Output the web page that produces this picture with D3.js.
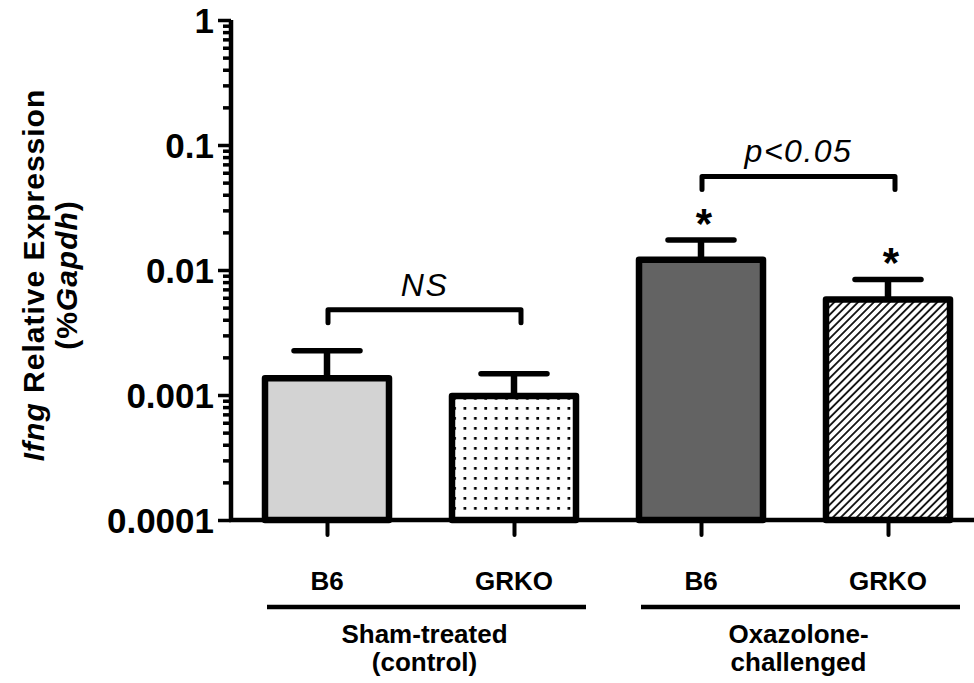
<!DOCTYPE html>
<html>
<head>
<meta charset="utf-8">
<script src="https://cdn.jsdelivr.net/npm/d3@7"></script>
<style>
body{margin:0;background:#fff;}
svg{display:block;font-family:"Liberation Sans",Arial,sans-serif;}
</style>
</head>
<body>
<svg id="chart" width="974" height="683"></svg>
<script>
// data
const barKeys=["shamB6","shamGRKO","oxaB6","oxaGRKO"];
const strains=["B6","GRKO","B6","GRKO"];
const means=[0.00136,0.00098,0.0121,0.0058];
const sems=[0.0009,0.0005,0.0053,0.0026];
const starred=[false,false,true,true];
const groupNames=[["Sham-treated","(control)"],["Oxazolone-","challenged"]];
const groupMembers=[[0,1],[2,3]];
const yTicks=[0.0001,0.001,0.01,0.1,1];
const yTickLabels=["0.0001","0.001","0.01","0.1","1"];
const brackets=[{from:0,to:1,level:0.0048,label:"NS"},{from:2,to:3,level:0.056,label:"p<0.05"}];

const fills=["#d3d3d3","url(#dots)","#636363","url(#hatch)"];

function draw()
{
    const svg=d3.select("#chart");
    const axisX=231, top=20, bottom=520;
    const barW=124;

    const y=d3.scaleLog().domain([0.0001,1]).range([bottom,top]);
    const x=d3.scalePoint().domain(barKeys).range([327,888]);

    const defs=svg.append("defs");
    let p=defs.append("pattern").attr("id","dots").attr("patternUnits","userSpaceOnUse")
        .attr("width",10.4).attr("height",10).attr("x",2).attr("y",3);
    p.append("rect").attr("width",10.4).attr("height",10).attr("fill","#fff");
    p.append("rect").attr("x",4).attr("y",4).attr("width",2.7).attr("height",2.7).attr("fill","#000");

    let h=defs.append("pattern").attr("id","hatch").attr("patternUnits","userSpaceOnUse")
        .attr("width",5.6).attr("height",5.6).attr("patternTransform","rotate(45)");
    h.append("rect").attr("width",5.6).attr("height",5.6).attr("fill","#fff");
    h.append("line").attr("x1",2.8).attr("x2",2.8).attr("y1",0).attr("y2",5.6)
        .attr("stroke","#000").attr("stroke-width",1.7);

    // bars
    svg.selectAll("rect.bar")
      .data(barKeys)
      .enter().append("rect")
      .attr("class","bar")
      .attr("x",function(d){return x(d)-barW/2;})
      .attr("y",function(d,i){return y(means[i]);})
      .attr("width",barW)
      .attr("height",function(d,i){return bottom-y(means[i]);})
      .attr("fill",function(d,i){return fills[i];})
      .attr("stroke","#000")
      .attr("stroke-width",6.5)
      .attr("stroke-linejoin","round");

    // error bars (upper only)
    const eb=svg.selectAll("g.err").data(barKeys).enter().append("g").attr("class","err");
    eb.append("line")
      .attr("x1",function(d){return x(d);}).attr("x2",function(d){return x(d);})
      .attr("y1",function(d,i){return y(means[i]);})
      .attr("y2",function(d,i){return y(means[i]+sems[i]);})
      .attr("stroke","#000").attr("stroke-width",6.5);
    eb.append("line")
      .attr("x1",function(d){return x(d)-33;}).attr("x2",function(d){return x(d)+33;})
      .attr("y1",function(d,i){return y(means[i]+sems[i]);})
      .attr("y2",function(d,i){return y(means[i]+sems[i]);})
      .attr("stroke","#000").attr("stroke-width",5.5).attr("stroke-linecap","round");

    // asterisks
    svg.selectAll("text.star")
      .data(barKeys.filter(function(d,i){return starred[i];}))
      .enter().append("text")
      .attr("class","star")
      .attr("x",function(d){return x(d)+3;})
      .attr("y",function(d){var i=barKeys.indexOf(d);return y(means[i]+sems[i])-2;})
      .attr("text-anchor","middle")
      .attr("font-size",42).attr("font-weight","bold")
      .text("*");

    // y axis
    const yAxis=svg.append("g").attr("transform","translate("+axisX+",0)")
        .call(d3.axisLeft(y).tickValues(yTicks).tickSize(13).tickPadding(4)
            .tickFormat(function(d,i){return yTickLabels[i];}));
    let minor=[];
    yTicks.slice(0,-1).forEach(function(t){for(var k=2;k<10;k++)minor.push(t*k);});
    const yMinor=svg.append("g").attr("transform","translate("+axisX+",0)")
        .call(d3.axisLeft(y).tickValues(minor).tickSize(8).tickFormat(""));
    yMinor.select(".domain").remove();
    yMinor.selectAll("line").attr("stroke-width",3.5);
    yAxis.select(".domain").attr("d","M0,"+top+"V"+bottom).attr("stroke-width",4.5);
    yAxis.selectAll("line").attr("stroke-width",3.5);
    yAxis.selectAll("text").attr("font-size",35).attr("font-weight","bold")
        .attr("font-family","Liberation Sans, Arial, sans-serif").attr("dy","0.36em");

    // x axis
    const xAxis=svg.append("g").attr("transform","translate(0,"+bottom+")")
        .call(d3.axisBottom(x).tickSize(15).tickFormat(""));
    xAxis.select(".domain").attr("d","M"+(axisX-2)+",0H974").attr("stroke-width",4.5);
    xAxis.selectAll("line").attr("stroke-width",4).attr("stroke-linecap","round");

    svg.selectAll("text.strain")
      .data(barKeys).enter().append("text")
      .attr("class","strain")
      .attr("x",function(d){return x(d);})
      .attr("y",590)
      .attr("text-anchor","middle")
      .attr("font-size",26).attr("font-weight","bold")
      .text(function(d,i){return strains[i];});

    groupNames.forEach(function(lines,g){
        var a=x(barKeys[groupMembers[g][0]]), b=x(barKeys[groupMembers[g][1]]);
        svg.append("line").attr("x1",a-60).attr("x2",b+72).attr("y1",607).attr("y2",607)
           .attr("stroke","#000").attr("stroke-width",4.5);
        var t=svg.append("text").attr("text-anchor","middle").attr("font-size",26).attr("font-weight","bold");
        lines.forEach(function(l,k){
            t.append("tspan").attr("x",(a+b)/2+4).attr("y",643+k*28).text(l);
        });
    });

    // significance brackets
    brackets.forEach(function(br){
        var a=x(barKeys[br.from])+1, b=x(barKeys[br.to])+7, by=y(br.level);
        svg.append("path")
           .attr("d","M"+a+","+(by+13)+"V"+by+"H"+b+"V"+(by+13))
           .attr("fill","none").attr("stroke","#000").attr("stroke-width",5)
           .attr("stroke-linecap","round").attr("stroke-linejoin","round");
        svg.append("text").attr("x",(a+b)/2).attr("y",by-14)
           .attr("text-anchor","middle").attr("font-size",32).attr("font-style","italic")
           .attr("letter-spacing",1.5)
           .text(br.label);
    });

    // y title
    const yt=svg.append("text").attr("transform","translate(44,275) rotate(-90)")
        .attr("text-anchor","middle").attr("font-size",30).attr("font-weight","bold")
        .attr("letter-spacing",1);
    yt.append("tspan").attr("font-style","italic").text("Ifng");
    yt.append("tspan").text(" Relative Expression");
    const yt2=svg.append("text").attr("transform","translate(77,275) rotate(-90)")
        .attr("text-anchor","middle").attr("font-size",30).attr("font-weight","bold")
        .attr("letter-spacing",1);
    yt2.append("tspan").text("(%");
    yt2.append("tspan").attr("font-style","italic").text("Gapdh");
    yt2.append("tspan").text(")");
}
draw();
</script>
</body>
</html>
